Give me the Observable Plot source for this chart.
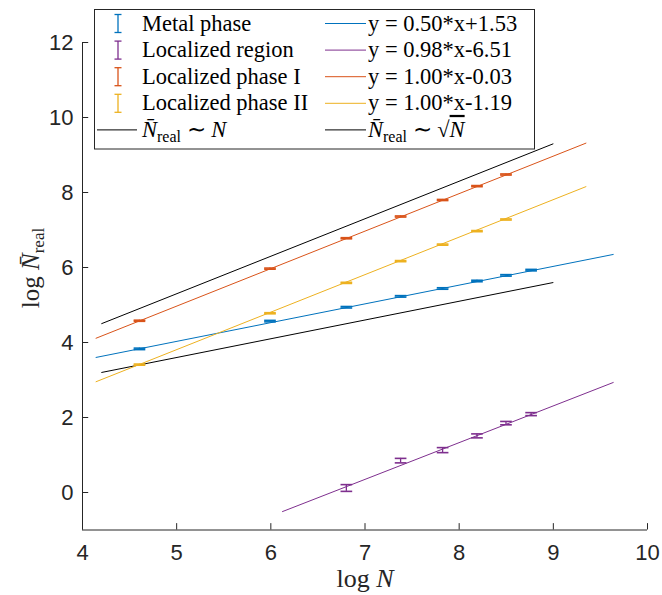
<!DOCTYPE html>
<html><head><meta charset="utf-8">
<script src="https://cdn.jsdelivr.net/npm/d3@7"></script>
<script src="https://cdn.jsdelivr.net/npm/@observablehq/plot@0.6"></script>
<style>
body{margin:0;background:#fff} #chart{width:662px;height:595px}
svg text.serif, svg text.serif tspan { font-family: "Liberation Serif", "Times New Roman", serif !important; }
</style>
</head><body><div id="chart"></div>
<script>
// ---------- data ----------
const xTicks = [4, 5, 6, 7, 8, 9, 10];
const yTicks = [0, 2, 4, 6, 8, 10, 12];
const logN = [4.605, 5.991, 6.802, 7.378, 7.824, 8.189, 8.497, 8.764];

const metalX = logN;
const metalY = [3.83, 4.57, 4.94, 5.23, 5.44, 5.64, 5.79, 5.93];
const metalErr = [0.02, 0.02, 0.02, 0.02, 0.02, 0.02, 0.02, 0.02];

const regionX = logN.slice(2);
const regionY = [0.12, 0.85, 1.13, 1.51, 1.85, 2.09];
const regionErr = [0.09, 0.06, 0.067, 0.053, 0.045, 0.04];

const phase1X = logN.slice(0, 7);
const phase1Y = [4.58, 5.97, 6.78, 7.36, 7.80, 8.17, 8.48];
const phase1Err = [0.015, 0.015, 0.015, 0.015, 0.015, 0.015, 0.015];

const phase2X = logN.slice(0, 7);
const phase2Y = [3.41, 4.78, 5.59, 6.17, 6.61, 6.97, 7.28];
const phase2Err = [0.015, 0.015, 0.015, 0.015, 0.015, 0.015, 0.015];

const seriesNames = ["Metal phase", "Localized region", "Localized phase I", "Localized phase II"];
const seriesColors = ["#0072BD", "#7E2F8E", "#D95319", "#EDB120"];
const fitSlope = [0.50, 0.98, 1.00, 1.00];
const fitIntercept = [1.53, -6.51, -0.03, -1.19];
const fitStart = [4.14, 6.12, 4.14, 4.14];
const fitEnd = [9.64, 9.64, 9.35, 9.35];
const fitLabels = ["y = 0.50*x+1.53", "y = 0.98*x-6.51", "y = 1.00*x-0.03", "y = 1.00*x-1.19"];

const refSlope = [1.0, 0.5];
const refIntercept = [0.3, 1.1];
const refStart = [4.2, 4.2];
const refEnd = [9.0, 9.0];

// ---------- derived tables ----------
const series = [
  {x: metalX, y: metalY, e: metalErr},
  {x: regionX, y: regionY, e: regionErr},
  {x: phase1X, y: phase1Y, e: phase1Err},
  {x: phase2X, y: phase2Y, e: phase2Err}
];
const points = [];
series.forEach((s, k) => s.x.forEach((x, i) => points.push({x, y: s.y[i], e: s.e[i], c: seriesColors[k]})));
const fits = fitSlope.map((a, k) => ({
  x1: fitStart[k], x2: fitEnd[k],
  y1: a * fitStart[k] + fitIntercept[k], y2: a * fitEnd[k] + fitIntercept[k], c: seriesColors[k]
}));
const refs = refSlope.map((a, k) => ({
  x1: refStart[k], x2: refEnd[k],
  y1: a * refStart[k] + refIntercept[k], y2: a * refEnd[k] + refIntercept[k]
}));

const capHalf = 0.062;   // half-width of error-bar caps (x units)
const tickLenY = 0.17, tickLenX = 0.066;
const axisColor = "#262626";

const plot = Plot.plot({
  width: 662, height: 595,
  marginLeft: 82, marginRight: 15, marginTop: 42, marginBottom: 65.5,
  x: {domain: [4, 10]},
  y: {domain: [-1, 12]},
  style: {fontFamily: "'Liberation Sans', Arial, sans-serif", fontSize: "20px", color: axisColor, background: "#fff", overflow: "visible"},
  marks: [
    Plot.axisX({ticks: xTicks, tickSize: 0, tickPadding: 14, label: null, fontSize: 22, tickFormat: d => d}),
    Plot.axisY({ticks: yTicks, tickSize: 0, tickPadding: 9, label: null, fontSize: 22, tickFormat: d => d}),
    Plot.ruleY([-1], {x1: 4, x2: 10, stroke: axisColor, strokeWidth: 1}),
    Plot.ruleX([4], {y1: -1, y2: 12, stroke: axisColor, strokeWidth: 1}),
    Plot.ruleX(xTicks, {x: d => d, y1: -1, y2: -1 + tickLenY, stroke: axisColor}),
    Plot.ruleY(yTicks, {y: d => d, x1: 4, x2: 4 + tickLenX, stroke: axisColor}),
    Plot.link(refs, {x1: "x1", y1: "y1", x2: "x2", y2: "y2", stroke: "#000", strokeWidth: 1}),
    Plot.link(fits, {x1: "x1", y1: "y1", x2: "x2", y2: "y2", stroke: "c", strokeWidth: 1}),
    Plot.ruleX(points, {x: "x", y1: d => d.y - d.e, y2: d => d.y + d.e, stroke: "c", strokeWidth: 1.3}),
    Plot.link(points, {x1: d => d.x - capHalf, x2: d => d.x + capHalf, y1: d => d.y - d.e, y2: d => d.y - d.e, stroke: "c", strokeWidth: 1.6}),
    Plot.link(points, {x1: d => d.x - capHalf, x2: d => d.x + capHalf, y1: d => d.y + d.e, y2: d => d.y + d.e, stroke: "c", strokeWidth: 1.6})
  ]
});
document.getElementById("chart").appendChild(plot);

// ---------- labels & legend (rich text) ----------
const svg = d3.select(plot);
const txt = (sel, x, y, size) => sel.append("text").attr("class", "serif").attr("x", x).attr("y", y)
  .attr("text-anchor", "start").attr("fill", "#000").style("font-size", size + "px");

// x label
const xl = svg.append("text").attr("class", "serif").attr("x", 365).attr("y", 587).attr("text-anchor", "middle")
  .style("font-size", "26px").attr("fill", axisColor);
xl.append("tspan").text("log ");
xl.append("tspan").attr("font-style", "italic").text("N");

// y label
const yl = svg.append("text").attr("class", "serif").attr("transform", "translate(39,268) rotate(-90)").attr("text-anchor", "middle")
  .style("font-size", "25px").attr("fill", axisColor);
yl.append("tspan").text("log ");
yl.append("tspan").attr("font-style", "italic").text("N\u0304");
yl.append("tspan").style("font-size", "17px").attr("dy", 5).text("real");

// legend
const lg = svg.append("g");
lg.append("rect").attr("x", 94.5).attr("y", 9.5).attr("width", 440).attr("height", 139.5)
  .attr("fill", "#fff").attr("stroke", axisColor).attr("stroke-width", 1);
const rowY = i => 23.5 + i * 26.6;
const fs = 22.5;
seriesNames.forEach((name, i) => {
  const cy = rowY(i), c = seriesColors[i];
  lg.append("line").attr("x1", 118).attr("x2", 118).attr("y1", cy - 9).attr("y2", cy + 9).attr("stroke", c).attr("stroke-width", 1.3);
  lg.append("line").attr("x1", 114.5).attr("x2", 121.5).attr("y1", cy - 9).attr("y2", cy - 9).attr("stroke", c).attr("stroke-width", 1.3);
  lg.append("line").attr("x1", 114.5).attr("x2", 121.5).attr("y1", cy + 9).attr("y2", cy + 9).attr("stroke", c).attr("stroke-width", 1.3);
  txt(lg, 142, cy + 7, fs).text(name);
  lg.append("line").attr("x1", 325).attr("x2", 366).attr("y1", cy).attr("y2", cy).attr("stroke", c).attr("stroke-width", 1);
  txt(lg, 368, cy + 7, fs).text(fitLabels[i]);
});
{
  const cy = rowY(4);
  lg.append("line").attr("x1", 97).attr("x2", 137).attr("y1", cy).attr("y2", cy).attr("stroke", "#000");
  const t1 = txt(lg, 142, cy + 7, fs);
  t1.append("tspan").attr("font-style", "italic").text("N\u0304");
  t1.append("tspan").style("font-size", "16px").attr("dy", 5).text("real");
  t1.append("tspan").attr("dy", -5).text(" \u223C ");
  t1.append("tspan").attr("font-style", "italic").text("N");
  lg.append("line").attr("x1", 325).attr("x2", 366).attr("y1", cy).attr("y2", cy).attr("stroke", "#000");
  const t2 = txt(lg, 368, cy + 7, fs);
  t2.append("tspan").attr("font-style", "italic").text("N\u0304");
  t2.append("tspan").style("font-size", "16px").attr("dy", 5).text("real");
  t2.append("tspan").attr("dy", -5).text(" \u223C \u221A");
  t2.append("tspan").attr("font-style", "italic").attr("text-decoration", "overline").text("N");
}
</script></body></html>
